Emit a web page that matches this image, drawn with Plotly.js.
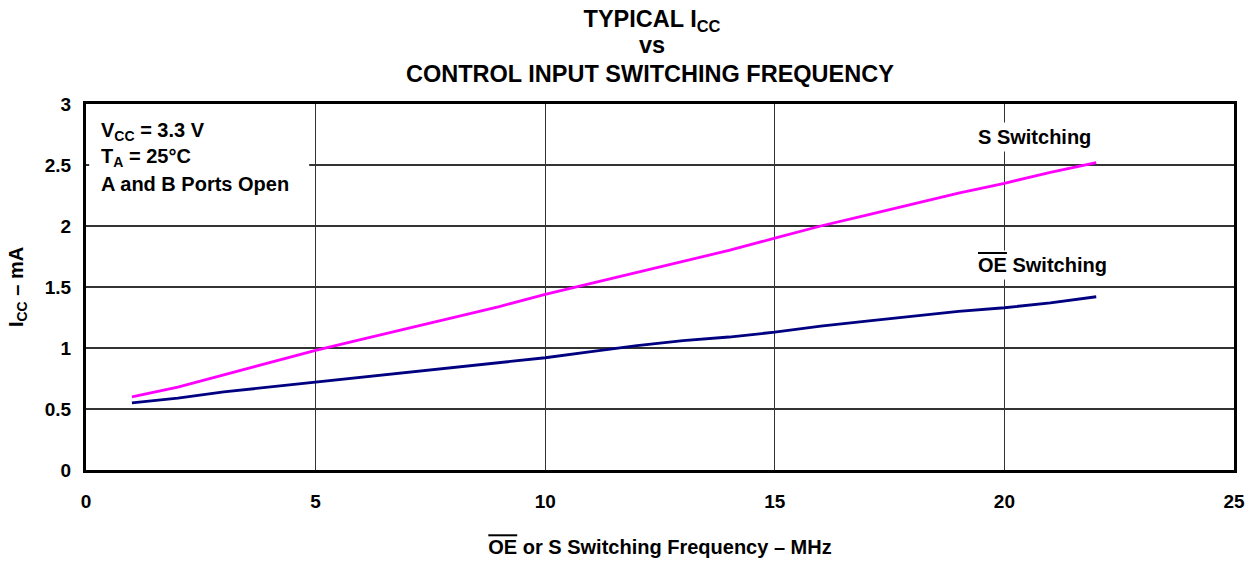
<!DOCTYPE html>
<html>
<head>
<meta charset="utf-8">
<script src="https://cdn.plot.ly/plotly-3.0.1.min.js"></script>
<style>html,body{margin:0;padding:0;background:#fff;}#chart{width:1252px;height:561px;}</style>
</head>
<body>
<div id="chart"></div>
<script>
// Data
var freqMHz = [1, 1.5, 2, 3, 4, 5, 6, 7, 8, 9, 10, 11, 12, 13, 14, 15, 16, 17, 18, 19, 20, 21, 22];
var sSwitching = [0.60, 0.64, 0.68, 0.78, 0.88, 0.98, 1.07, 1.16, 1.25, 1.34, 1.44, 1.53, 1.62, 1.71, 1.80, 1.90, 2.00, 2.09, 2.18, 2.27, 2.35, 2.44, 2.52];
var oeSwitching = [0.55, 0.57, 0.59, 0.64, 0.68, 0.72, 0.76, 0.80, 0.84, 0.88, 0.92, 0.97, 1.02, 1.06, 1.09, 1.13, 1.18, 1.22, 1.26, 1.30, 1.33, 1.37, 1.42];
var xTicks = [0, 5, 10, 15, 20, 25];
var yTicks = [0, 0.5, 1, 1.5, 2, 2.5, 3];

var FONT = "Liberation Sans, Arial, sans-serif";
var OL = function(t){ return '<span style="text-decoration:overline">' + t + '</span>'; };
var PLOT_T = 104, PLOT_B = 470, PLOT_L = 86, PLOT_W = 1148, PLOT_H = 366;
function py(pix){ return (PLOT_B - pix) / PLOT_H; }
function px(pix){ return (pix - PLOT_L) / PLOT_W; }

var traces = [
  {x: freqMHz, y: sSwitching, type: 'scatter', mode: 'lines', name: 'S Switching',
   line: {color: '#ff00ff', width: 2.8}, showlegend: false},
  {x: freqMHz, y: oeSwitching, type: 'scatter', mode: 'lines', name: 'OE Switching',
   line: {color: '#000080', width: 2.8}, showlegend: false}
];

var annFont = {family: FONT, size: 20, color: '#000'};
var titleFont = {family: FONT, size: 23.5, color: '#000'};

var layout = {
  width: 1252, height: 561,
  margin: {l: 86, r: 18, t: 104, b: 91},
  paper_bgcolor: '#fff', plot_bgcolor: '#fff',
  font: {family: FONT, color: '#000', size: 19},
  title: {
    text: '<b>TYPICAL I<sub>CC</sub></b>',
    font: titleFont,
    x: px(652), xref: 'paper', xanchor: 'center',
    y: 1 - 19/561, yref: 'container', yanchor: 'middle'
  },
  xaxis: {
    range: [0, 25], tickvals: xTicks, ticktext: xTicks.map(function(v){return '<b>'+v+'</b>';}),
    showgrid: true, gridcolor: '#333', gridwidth: 1.4,
    zeroline: false, showline: true, linecolor: '#000', linewidth: 3, mirror: true,
    ticks: '', ticklabelstandoff: 12,
    tickfont: {family: FONT, size: 19, color: '#000'},
    title: {text: '<b>' + OL('OE') + ' or S Switching Frequency – MHz</b>',
            font: {family: FONT, size: 20, color: '#000'}, standoff: 30},
    fixedrange: true
  },
  yaxis: {
    range: [0, 3], tickvals: yTicks, ticktext: yTicks.map(function(v){return '<b>'+v+'</b>';}),
    showgrid: true, gridcolor: '#333', gridwidth: 1.4,
    zeroline: false, showline: true, linecolor: '#000', linewidth: 3, mirror: true,
    ticks: '', ticklabelstandoff: 8,
    tickfont: {family: FONT, size: 19, color: '#000'},
    title: {text: '<b>I<sub>CC</sub> – mA</b>', font: {family: FONT, size: 20, color: '#000'}, standoff: 16},
    fixedrange: true
  },
  shapes: [
    {type: 'rect', xref: 'x', yref: 'y', x0: 0.07, x1: 4.86, y0: 2.2, y1: 2.97,
     fillcolor: '#fff', line: {width: 0}, layer: 'above'}
  ],
  annotations: [
    {text: '<b>vs</b>', xref: 'paper', yref: 'paper', x: px(652), y: py(45),
     xanchor: 'center', yanchor: 'middle', showarrow: false, font: titleFont},
    {text: '<b>CONTROL INPUT SWITCHING FREQUENCY</b>', xref: 'paper', yref: 'paper', x: px(650), y: py(74),
     xanchor: 'center', yanchor: 'middle', showarrow: false, font: titleFont},
    {text: '<b>V<sub>CC</sub> = 3.3 V</b>', xref: 'paper', yref: 'paper', x: px(99), y: py(131),
     xanchor: 'left', yanchor: 'middle', showarrow: false, align: 'left', font: annFont},
    {text: '<b>T<sub>A</sub> = 25°C</b>', xref: 'paper', yref: 'paper', x: px(99), y: py(157),
     xanchor: 'left', yanchor: 'middle', showarrow: false, align: 'left', font: annFont},
    {text: '<b>A and B Ports Open</b>', xref: 'paper', yref: 'paper', x: px(99), y: py(184),
     xanchor: 'left', yanchor: 'middle', showarrow: false, align: 'left', font: annFont},
    {text: '<b>S Switching</b>', xref: 'paper', yref: 'paper', x: px(974), y: py(137),
     xanchor: 'left', yanchor: 'middle', showarrow: false, bgcolor: '#fff', borderpad: 3, font: annFont},
    {text: '<b>' + OL('OE') + ' Switching</b>', xref: 'paper', yref: 'paper', x: px(974), y: py(265),
     xanchor: 'left', yanchor: 'middle', showarrow: false, bgcolor: '#fff', borderpad: 3, font: annFont}
  ]
};

Plotly.newPlot('chart', traces, layout, {displayModeBar: false, staticPlot: true});
</script>
</body>
</html>
